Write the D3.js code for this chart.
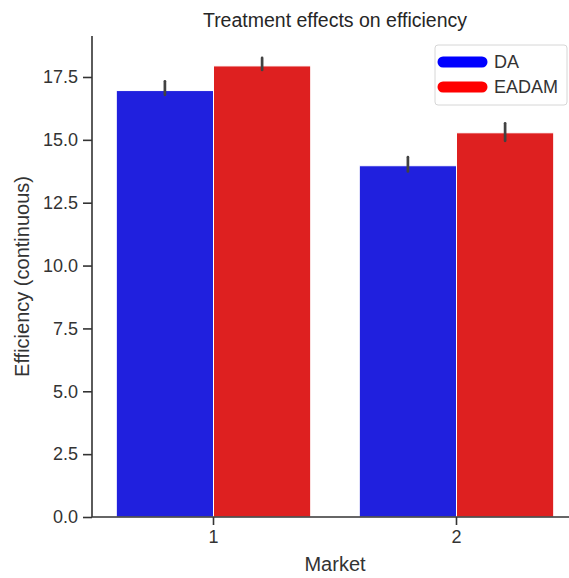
<!DOCTYPE html>
<html>
<head>
<meta charset="utf-8">
<script src="https://cdn.jsdelivr.net/npm/d3@7"></script>
<style>
  body { margin: 0; background: #fff; }
  svg { display: block; font-family: "Liberation Sans", Arial, sans-serif; }
</style>
</head>
<body>
<svg id="chart"></svg>
<script>
// data
const markets = ['1', '2'];
const treatments = ['DA', 'EADAM'];
const daMean = [16.96, 13.97];
const daLow = [16.79, 13.74];
const daHigh = [17.33, 14.31];
const eadamMean = [17.94, 15.28];
const eadamLow = [17.78, 14.96];
const eadamHigh = [18.26, 15.66];
const yTicks = [0, 2.5, 5, 7.5, 10, 12.5, 15, 17.5];

const barColors = { DA: '#2020de', EADAM: '#de2020' };
const legendColors = { DA: '#0000ff', EADAM: '#ff0000' };

const width = 569, height = 578;
const margin = { top: 36, right: -9, bottom: 61, left: 92 };

const svg = d3.select('#chart')
    .attr('width', width)
    .attr('height', height);

const x = d3.scaleBand()
    .domain(markets)
    .range([margin.left, width - margin.right]);

const xInner = d3.scaleBand()
    .domain(treatments)
    .range([0, x.bandwidth() * 0.8]);

const y = d3.scaleLinear()
    .domain([0, 19.13])
    .range([height - margin.bottom, margin.top]);

const rows = [];
markets.forEach((m, i) => {
    rows.push({ market: m, t: 'DA', v: daMean[i], lo: daLow[i], hi: daHigh[i] });
    rows.push({ market: m, t: 'EADAM', v: eadamMean[i], lo: eadamLow[i], hi: eadamHigh[i] });
});

// bars
const off = x.bandwidth() * 0.1;
svg.append('g').selectAll('rect')
    .data(rows)
    .join('rect')
    .attr('x', d => x(d.market) + off + xInner(d.t))
    .attr('y', d => y(d.v))
    .attr('width', xInner.bandwidth())
    .attr('height', d => y(0) - y(d.v))
    .attr('fill', d => barColors[d.t])
    .attr('stroke', '#ffffff')
    .attr('stroke-width', 1);

// error bars
svg.append('g').selectAll('line')
    .data(rows)
    .join('line')
    .attr('x1', d => x(d.market) + off + xInner(d.t) + xInner.bandwidth() / 2)
    .attr('x2', d => x(d.market) + off + xInner(d.t) + xInner.bandwidth() / 2)
    .attr('y1', d => y(d.lo))
    .attr('y2', d => y(d.hi))
    .attr('stroke', '#424242')
    .attr('stroke-width', 2.7)
    .attr('stroke-linecap', 'round');

// axes
const yAxis = d3.axisLeft(y)
    .tickValues(yTicks)
    .tickFormat(d3.format('.1f'))
    .tickSize(9)
    .tickPadding(5);

const xAxis = d3.axisBottom(x)
    .tickSize(8)
    .tickPadding(5);

const yAxisGroup = svg.append('g')
    .attr('transform', `translate(${margin.left},0)`)
    .call(yAxis);

const xAxisGroup = svg.append('g')
    .attr('transform', `translate(0,${height - margin.bottom})`)
    .call(xAxis);

[yAxisGroup, xAxisGroup].forEach(g => {
    g.select('.domain').attr('stroke', '#333333').attr('stroke-width', 1.6);
    g.selectAll('.tick line').attr('stroke', '#333333').attr('stroke-width', 1.6);
    g.selectAll('.tick text').attr('fill', '#333333').style('font-size', '18px');
});
// spines drawn without outer ticks
yAxisGroup.select('.domain').attr('d', `M0,${y(0)}V${margin.top}`);
xAxisGroup.select('.domain').attr('d', `M${margin.left},0H${width}`);

// titles
svg.append('text')
    .attr('x', (margin.left + width - margin.right) / 2)
    .attr('y', 27)
    .attr('text-anchor', 'middle')
    .attr('fill', '#262626')
    .style('font-size', '19.5px')
    .text('Treatment effects on efficiency');

svg.append('text')
    .attr('x', (margin.left + width - margin.right) / 2)
    .attr('y', 571)
    .attr('text-anchor', 'middle')
    .attr('fill', '#333333')
    .style('font-size', '20px')
    .text('Market');

svg.append('text')
    .attr('transform', `translate(29,${(y(0) + margin.top) / 2}) rotate(-90)`)
    .attr('text-anchor', 'middle')
    .attr('fill', '#333333')
    .style('font-size', '20px')
    .text('Efficiency (continuous)');

// legend
const legend = svg.append('g').attr('transform', 'translate(435,45)');
legend.append('rect')
    .attr('width', 132)
    .attr('height', 60)
    .attr('rx', 3)
    .attr('fill', '#ffffff')
    .attr('fill-opacity', 0.8)
    .attr('stroke', '#d6d6d6')
    .attr('stroke-width', 1);

treatments.forEach((t, i) => {
    const ly = 17 + i * 25;
    legend.append('line')
        .attr('x1', 8).attr('x2', 47)
        .attr('y1', ly).attr('y2', ly)
        .attr('stroke', legendColors[t])
        .attr('stroke-width', 11)
        .attr('stroke-linecap', 'round');
    legend.append('text')
        .attr('x', 59)
        .attr('y', ly + 6)
        .attr('fill', '#333333')
        .style('font-size', '18px')
        .text(t);
});
</script>
</body>
</html>
